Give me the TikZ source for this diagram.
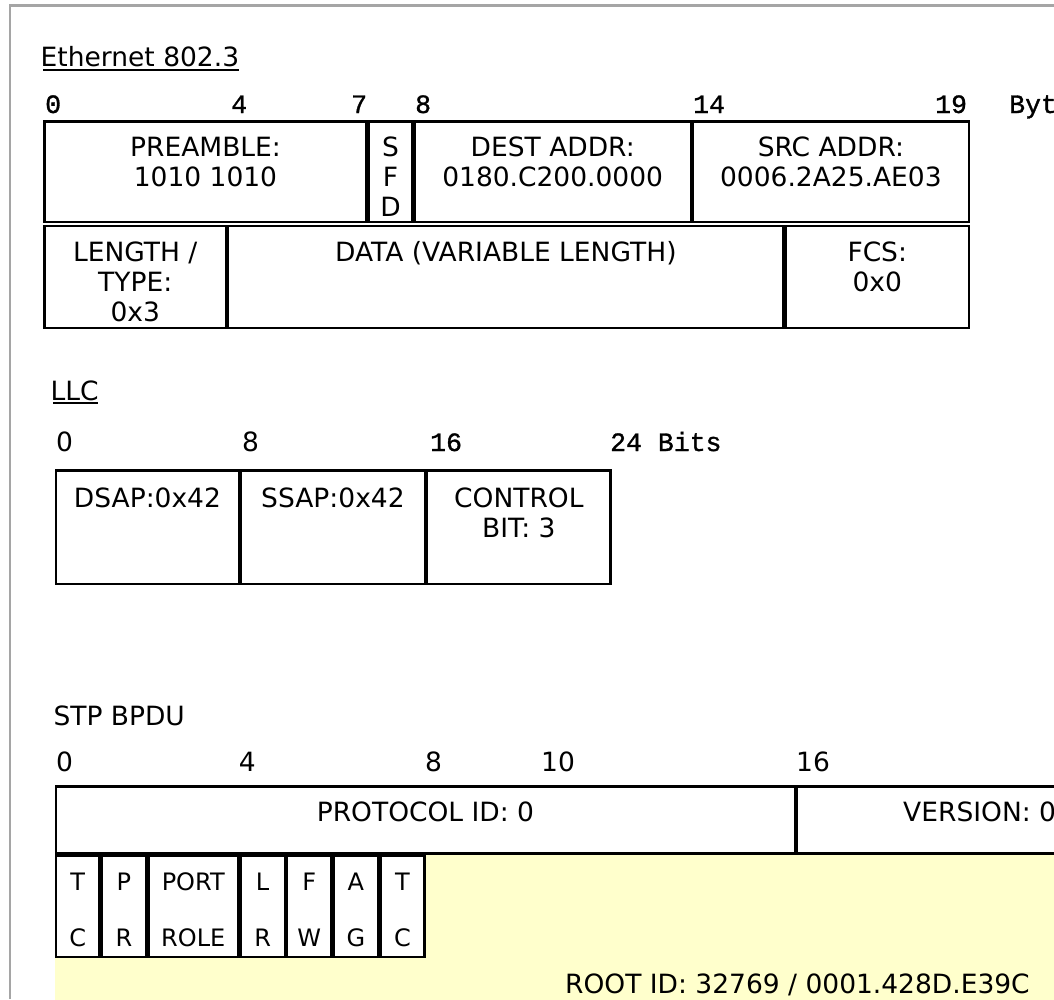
\documentclass[tikz,border=0pt]{standalone}
\usepackage{fontspec}
\setmainfont{DejaVu Sans}
\newfontfamily\monof[FakeBold=1.2]{Liberation Mono}
\definecolor{framecol}{RGB}{165,165,165}
\definecolor{bpdu}{RGB}{255,255,204}
\newcommand\mainsz{\fontsize{26.5}{30}\selectfont}
\newcommand\flagsz{\fontsize{24}{28}\selectfont}
\newcommand\monosz{\monof\fontsize{26.5}{30}\selectfont}
\newcommand\cellstack[1]{\begin{tabular}[t]{@{}c@{}}#1\end{tabular}}
\begin{document}
\begin{tikzpicture}[x=1pt,y=-1pt,
  cell/.style={draw=black, line width=2.4pt, fill=white, inner sep=0pt, outer sep=0pt},
  rootcell/.style={fill=bpdu, draw=none, inner sep=0pt, outer sep=0pt},
  txt/.style={font=\mainsz, inner sep=0pt, anchor=base},
  flagtxt/.style={font=\flagsz, inner sep=0pt, anchor=base},
  title/.style={font=\mainsz, inner sep=0pt, anchor=base west},
  snum/.style={font=\mainsz, inner sep=0pt, anchor=base west},
  mnum/.style={font=\monosz, inner sep=0pt, anchor=base west},
  uline/.style={line width=1.5pt}]
\useasboundingbox (0,0) rectangle (1054,999);
\clip (0,0) rectangle (1054,999);
% page frame
\draw[framecol, line width=2.5pt] (9.8,999) -- (9.8,5.3) -- (1054,5.3);

% ---------------- Ethernet 802.3 ----------------
\node[title] (eth) at (40.5,66.7) {Ethernet 802.3};
\draw[uline] ([xshift=2.5pt,yshift=-3.3pt]eth.base west) -- ([xshift=-0.5pt,yshift=-3.3pt]eth.base east);

\node[mnum] (e0) at (45,113) {0};
\node[mnum] (e4) at (231,113) {4};
\node[mnum] (e7) at (351,113) {7};
\node[mnum] (e8) at (415,113) {8};
\node[mnum] (e14) at (693,113) {14};
\node[mnum] (e19) at (935,113) {19};
\node[mnum] (eunit) at (1009,113) {Bytes};

\node[cell, minimum width=322.2pt, minimum height=100.9pt] (pre) at (205.5,171.75) {};
\node[cell, minimum width=43.5pt, minimum height=100.9pt] (sfd) at (390.55,171.75) {};
\node[cell, minimum width=276.4pt, minimum height=100.9pt] (dest) at (552.7,171.75) {};
\node[cell, minimum width=275.6pt, minimum height=100.9pt] (src) at (830.9,171.75) {};
\node[cell, minimum width=181.6pt, minimum height=101.6pt] (len) at (135.2,277) {};
\node[cell, minimum width=555.4pt, minimum height=101.6pt] (data) at (505.9,277) {};
\node[cell, minimum width=182.9pt, minimum height=101.6pt] (fcs) at (877.25,277) {};

\node[txt] (pretxt) at (205.5,156.7) {\cellstack{PREAMBLE:\\1010 1010}};
\node[txt] (sfdtxt) at (390.55,156.7) {\cellstack{S\\F\\D}};
\node[txt] (desttxt) at (552.7,156.7) {\cellstack{DEST ADDR:\\0180.C200.0000}};
\node[txt] (srctxt) at (830.9,156.7) {\cellstack{SRC ADDR:\\0006.2A25.AE03}};
\node[txt] (lentxt) at (135.2,261.7) {\cellstack{LENGTH /\\TYPE:\\0x3}};
\node[txt] (datatxt) at (505.9,261.7) {DATA (VARIABLE LENGTH)};
\node[txt] (fcstxt) at (877.25,261.7) {\cellstack{FCS:\\0x0}};

% ---------------- LLC ----------------
\node[title] (llc) at (50.5,400) {LLC};
\draw[uline] ([xshift=2.5pt,yshift=-3pt]llc.base west) -- ([xshift=-0.5pt,yshift=-3pt]llc.base east);

\node[snum] (l0) at (56,451) {0};
\node[snum] (l8) at (242,451) {8};
\node[mnum] (l16) at (430,451) {16};
\node[mnum] (l24) at (610,451) {24 Bits};

\node[cell, minimum width=182.9pt, minimum height=113.4pt] (dsap) at (147.45,527) {};
\node[cell, minimum width=183.7pt, minimum height=113.4pt] (ssap) at (332.95,527) {};
\node[cell, minimum width=183.5pt, minimum height=113.4pt] (ctrl) at (518.85,527) {};

\node[txt] (dsaptxt) at (147.45,507) {DSAP:0x42};
\node[txt] (ssaptxt) at (332.95,507) {SSAP:0x42};
\node[txt] (ctrltxt) at (518.85,507) {\cellstack{CONTROL\\BIT: 3}};

% ---------------- STP BPDU ----------------
\node[title] (stp) at (53.3,725) {STP BPDU};

\node[snum] (s0) at (56,771) {0};
\node[snum] (s4) at (238.7,771) {4};
\node[snum] (s8) at (425,771) {8};
\node[snum] (s10) at (541,771) {10};
\node[snum] (s16) at (796,771) {16};

\node[rootcell, minimum width=1482pt, minimum height=300pt] (root) at (796,1004.7) {};

\node[cell, minimum width=738.9pt, minimum height=67.2pt] (proto) at (425.45,819.9) {};
\node[cell, minimum width=738.9pt, minimum height=67.2pt] (ver) at (1166.55,819.9) {};
\node[txt] (prototxt) at (425.45,821.7) {PROTOCOL ID: 0};
\node[txt, anchor=base west] (vertxt) at (903,821.7) {VERSION: 0};

\node[cell, minimum width=43.6pt, minimum height=101.5pt] (ftc) at (77.8,906.25) {};
\node[cell, minimum width=44.3pt, minimum height=101.5pt] (fpr) at (123.95,906.25) {};
\node[cell, minimum width=89.9pt, minimum height=101.5pt] (frole) at (193.25,906.25) {};
\node[cell, minimum width=44.5pt, minimum height=101.5pt] (flr) at (262.65,906.25) {};
\node[cell, minimum width=44.4pt, minimum height=101.5pt] (ffw) at (309.3,906.25) {};
\node[cell, minimum width=44.5pt, minimum height=101.5pt] (fag) at (355.95,906.25) {};
\node[cell, minimum width=44pt, minimum height=101.5pt] (ftc2) at (402.4,906.25) {};

\node[flagtxt] (ftctxt) at (77.8,890) {\cellstack{T\\[28pt]C}};
\node[flagtxt] (fprtxt) at (123.95,890) {\cellstack{P\\[28pt]R}};
\node[flagtxt] (froletxt) at (193.25,890) {\cellstack{PORT\\[28pt]ROLE}};
\node[flagtxt] (flrtxt) at (262.65,890) {\cellstack{L\\[28pt]R}};
\node[flagtxt] (ffwtxt) at (309.3,890) {\cellstack{F\\[28pt]W}};
\node[flagtxt] (fagtxt) at (355.95,890) {\cellstack{A\\[28pt]G}};
\node[flagtxt] (ftc2txt) at (402.4,890) {\cellstack{T\\[28pt]C}};

\node[txt] (roottxt) at (797.5,993.3) {ROOT ID: 32769 / 0001.428D.E39C};
\end{tikzpicture}
\end{document}
